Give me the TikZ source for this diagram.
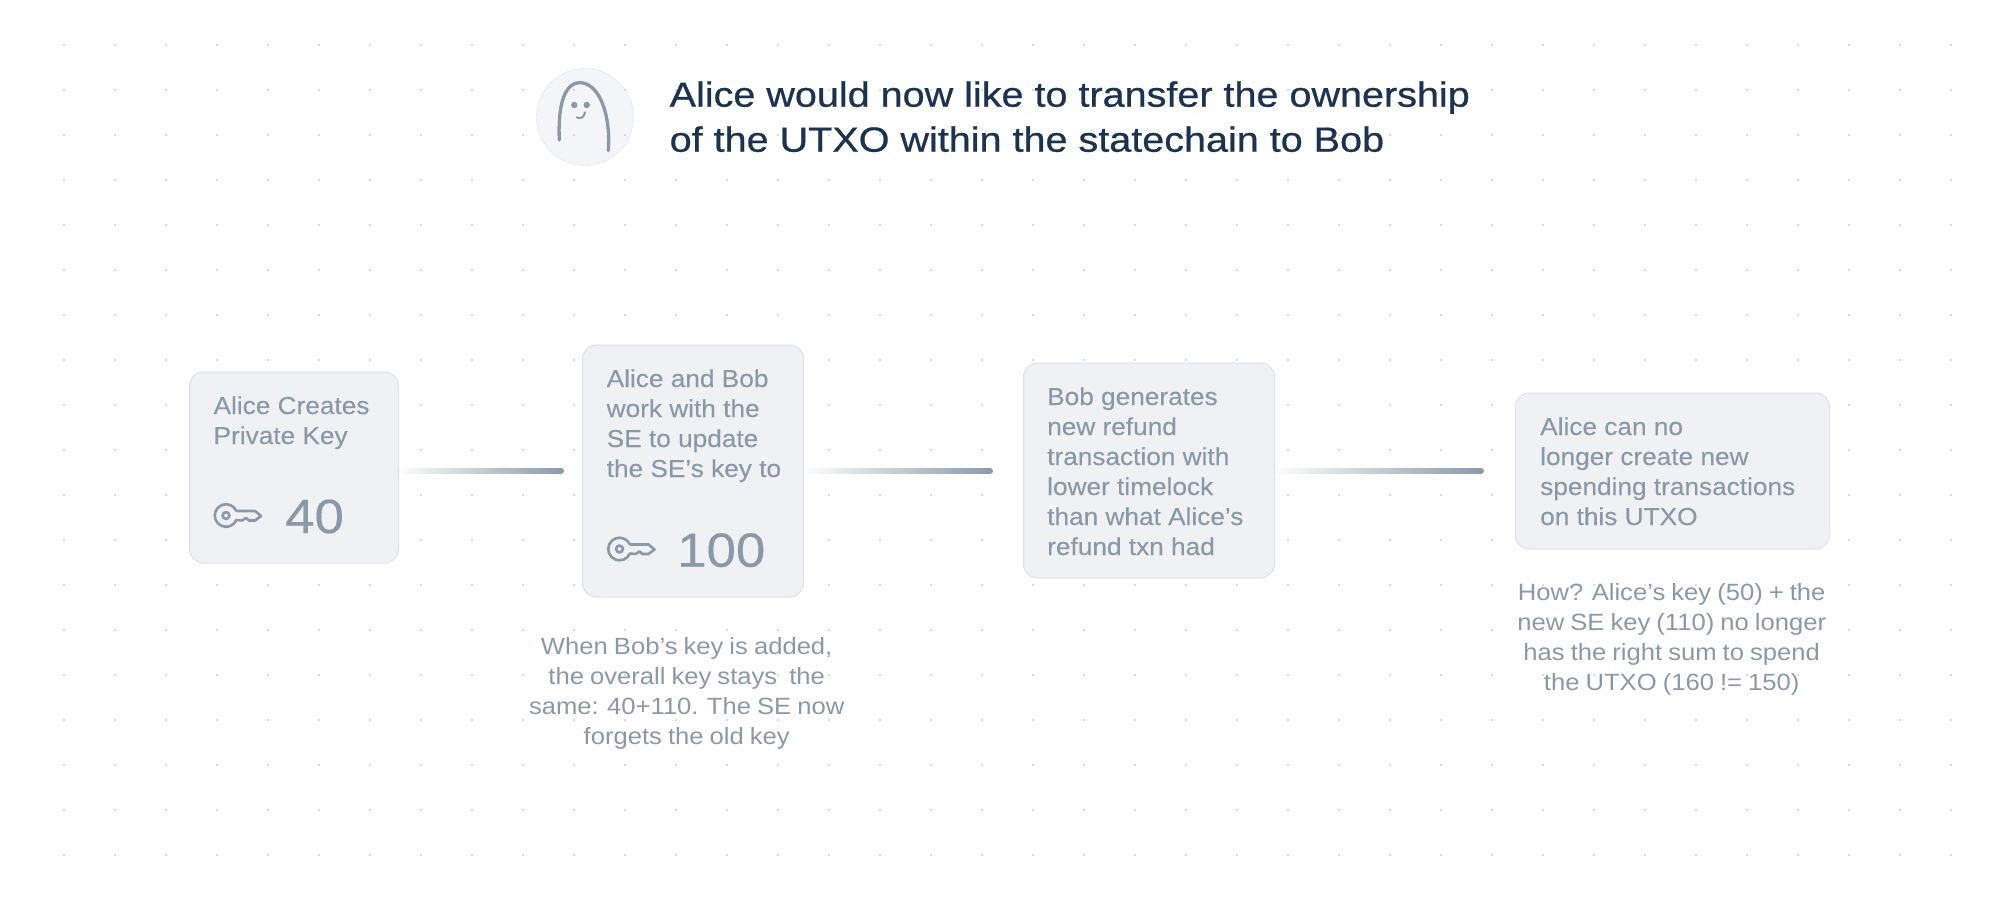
\documentclass[tikz,border=0pt]{standalone}
\usepackage{fontspec}
\setmainfont{Liberation Sans}[FakeStretch=1.07,FakeBold=0.15]
\newfontfamily\titlefont{Liberation Sans}[FakeStretch=1.13,FakeBold=0.7]
\newfontfamily\notefont{Liberation Sans}[FakeStretch=1.09,WordSpace=0.85]
\newfontfamily\valuefont{Liberation Sans}[FakeStretch=1.1,FakeBold=0.3]
\usetikzlibrary{fadings}
\definecolor{inkblue}{HTML}{1B3350}
\definecolor{inkgrey}{HTML}{8A99A9}
\definecolor{cardfill}{HTML}{F0F1F3}
\definecolor{cardline}{HTML}{DEE1E5}
\definecolor{griddot}{HTML}{D6DBE2}
\tikzfading[name=linkfade, left color=transparent!100, right color=transparent!0]
\tikzset{
  card/.style = {draw=cardline, fill=cardfill, line width=1pt, rounded corners=14pt,
    inner sep=0pt},
  cardtext/.style = {anchor=base west, align=left, inner sep=0pt, text=inkgrey,
    font=\fontsize{24.5}{30}\selectfont},
  notetext/.style = {anchor=base, align=center, inner sep=0pt, text=inkgrey,
    font=\notefont\fontsize{23.5}{30}\selectfont},
  keyvalue/.style = {anchor=base west, inner sep=0pt, text=inkgrey,
    font=\valuefont\fontsize{48}{48}\selectfont},
  linkbar/.style = {draw=inkgrey, line width=6pt, line cap=round, path fading=linkfade},
  pics/keyicon/.style = {code = {
    \draw[inkgrey, line width=2.6pt, line join=round]
      (10.4,-4.5) -- (29,-4.5) -- (35,0.5) -- (29,5) -- (23,5) -- (20,2.5) -- (16,5) -- (10.4,4.5)
      arc (23.4:336.6:11.3);
    \draw[inkgrey, line width=2.6pt] (0,0) circle (3.4);
  }}
}
\begin{document}
\begin{tikzpicture}[x=1pt, y=-1pt]
  \useasboundingbox (0,0) rectangle (2016,900);

  % heading
  \node[circle, draw=cardline, fill=cardfill!70!white, minimum size=97pt, inner sep=0pt] (avatar) at (585,117) {};

  % dotted background
  \foreach \i in {0,...,37}
    \foreach \j in {1,...,19}
      \fill[griddot] ({64+51*\i-1.4},{45*\j-1.4}) rectangle ++(2.8,2.8);

  \draw[inkgrey, line width=3.3pt, line cap=round]
    (559.3,140) .. controls (558,112) and (562,82.7) .. (580,82.7)
    .. controls (598,82.7) and (611,112) .. (608.3,150.7);
  \fill[inkgrey] (574.3,105) circle (3.2) (586.7,105) circle (3.2);
  \draw[inkgrey, line width=2pt, line cap=round] (576.7,117.3) .. controls (580,119) and (584,118) .. (585,112.3);
  \node[anchor=base west, align=left, inner sep=0pt, text=inkblue, font=\titlefont\fontsize{35}{45}\selectfont] (heading) at (669.5,151.7)
    {Alice would now like to transfer the ownership\\of the UTXO within the statechain to Bob};

  % cards
  \node[card, minimum width=209pt, minimum height=191pt] (createcard) at (294,467.5) {};
  \node[card, minimum width=221pt, minimum height=252pt] (updatecard) at (693,471) {};
  \node[card, minimum width=251pt, minimum height=215pt] (refundcard) at (1149,470.5) {};
  \node[card, minimum width=314pt, minimum height=156pt] (blockcard) at (1672.5,471) {};

  \node[cardtext] (createtext) at (213.4,444) {Alice Creates\\Private Key};
  \pic at (226,515.5) {keyicon};
  \node[keyvalue] (createvalue) at (285,533) {40};

  \node[cardtext] (updatetext) at (606.5,477) {Alice and Bob\\work with the\\SE to update\\the SE’s key to};
  \pic at (619.5,549) {keyicon};
  \node[keyvalue] (updatevalue) at (677,566.7) {100};

  \node[cardtext] (refundtext) at (1047,555) {Bob generates\\new refund\\transaction with\\lower timelock\\than what Alice’s\\refund txn had};
  \node[cardtext] (blocktext) at (1540,525) {Alice can no\\longer create new\\spending transactions\\on this UTXO};

  % notes below
  \node[notetext] (updatenote) at (686.7,744) {When Bob’s key is added,\\the overall key stays~~the\\same: 40+110. The SE now\\forgets the old key};
  \node[notetext] (blocknote) at (1671.7,690) {How? Alice’s key (50) + the\\new SE key (110) no longer\\has the right sum to spend\\the UTXO (160 != 150)};

  % links
  \coordinate (firstend) at (561,471);
  \coordinate (secondend) at (990,471);
  \coordinate (thirdend) at (1481,471);
  \draw[linkbar] (createcard.east |- firstend) -- (firstend);
  \draw[linkbar] (updatecard.east |- secondend) -- (secondend);
  \draw[linkbar] (refundcard.east |- thirdend) -- (thirdend);
\end{tikzpicture}
\end{document}
